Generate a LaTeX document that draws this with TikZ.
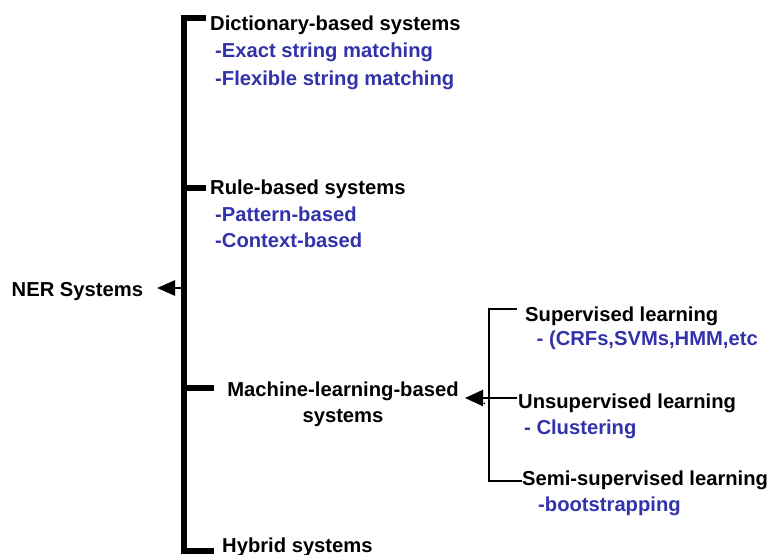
\documentclass[tikz,border=0pt]{standalone}
\usepackage{fontspec}
\setmainfont{Liberation Sans}
\usetikzlibrary{arrows.meta}
\definecolor{subblue}{RGB}{50,50,170}
\tikzset{
  lbl/.style={inner sep=0pt, anchor=base west, font=\fontsize{20.2bp}{23bp}\selectfont\bfseries, text=black},
  sub/.style={lbl, text=subblue},
  mainbar/.style={line width=6bp, line join=miter, line cap=butt},
  thinbar/.style={line width=2bp, line join=miter},
  bigarrow/.style={line width=2.7bp, -{Triangle[length=18bp,width=15bp]}},
  smallarrow/.style={line width=2bp, -{Triangle[length=18bp,width=16bp]}}
}
\begin{document}
\begin{tikzpicture}[x=1bp,y=-1bp]
\useasboundingbox (0,0) rectangle (769,555);
% texts
\node[lbl] (dict) at (210,31) {Dictionary-based systems};
\node[sub] (exact) at (215,58) {-Exact string matching};
\node[sub] (flex) at (215,86) {-Flexible string matching};
\node[lbl] (rule) at (210,195) {Rule-based systems};
\node[sub] (pat) at (215,222) {-Pattern-based};
\node[sub] (ctx) at (215,248) {-Context-based};
\node[lbl] (ner) at (11.5,297) {NER Systems};
\node[inner sep=0pt, align=center, anchor=north, font=\fontsize{20.2bp}{26bp}\selectfont\bfseries] (ml) at (343,382) {Machine-learning-based\\systems};
\node[lbl] (hyb) at (222,552) {Hybrid systems};
\node[lbl] (sup) at (525,321) {Supervised learning};
\node[sub] (crf) at (536.5,345) {- (CRFs,SVMs,HMM,etc};
\node[lbl] (uns) at (518,408) {Unsupervised learning};
\node[sub] (clu) at (524,434) {- Clustering};
\node[lbl] (semi) at (522,485) {Semi-supervised learning};
\node[sub] (boot) at (538,511) {-bootstrapping};
% main bracket
\coordinate (t1) at (206,18);
\coordinate (b1) at (214,551);
\coordinate (barmid) at (182,288);
\coordinate (nertip) at (157,288);
\draw[mainbar] (t1) -- (184,18) -- (184,551) -- (b1);
\draw[mainbar] (184,188) -- (206,188);
\draw[mainbar] (184,388) -- (214,388);
\draw[bigarrow] (barmid) -- (nertip);
% ML bracket
\coordinate (mtop) at (517,309);
\coordinate (mbot) at (522,481);
\coordinate (mmid) at (517,398);
\coordinate (mltip) at (465,398);
\draw[thinbar] (mtop) -- (489,309) -- (489,481) -- (mbot);
\draw[smallarrow] (mmid) -- (mltip);
\fill (484.3,403.3) circle (0.9bp);
\end{tikzpicture}
\end{document}
